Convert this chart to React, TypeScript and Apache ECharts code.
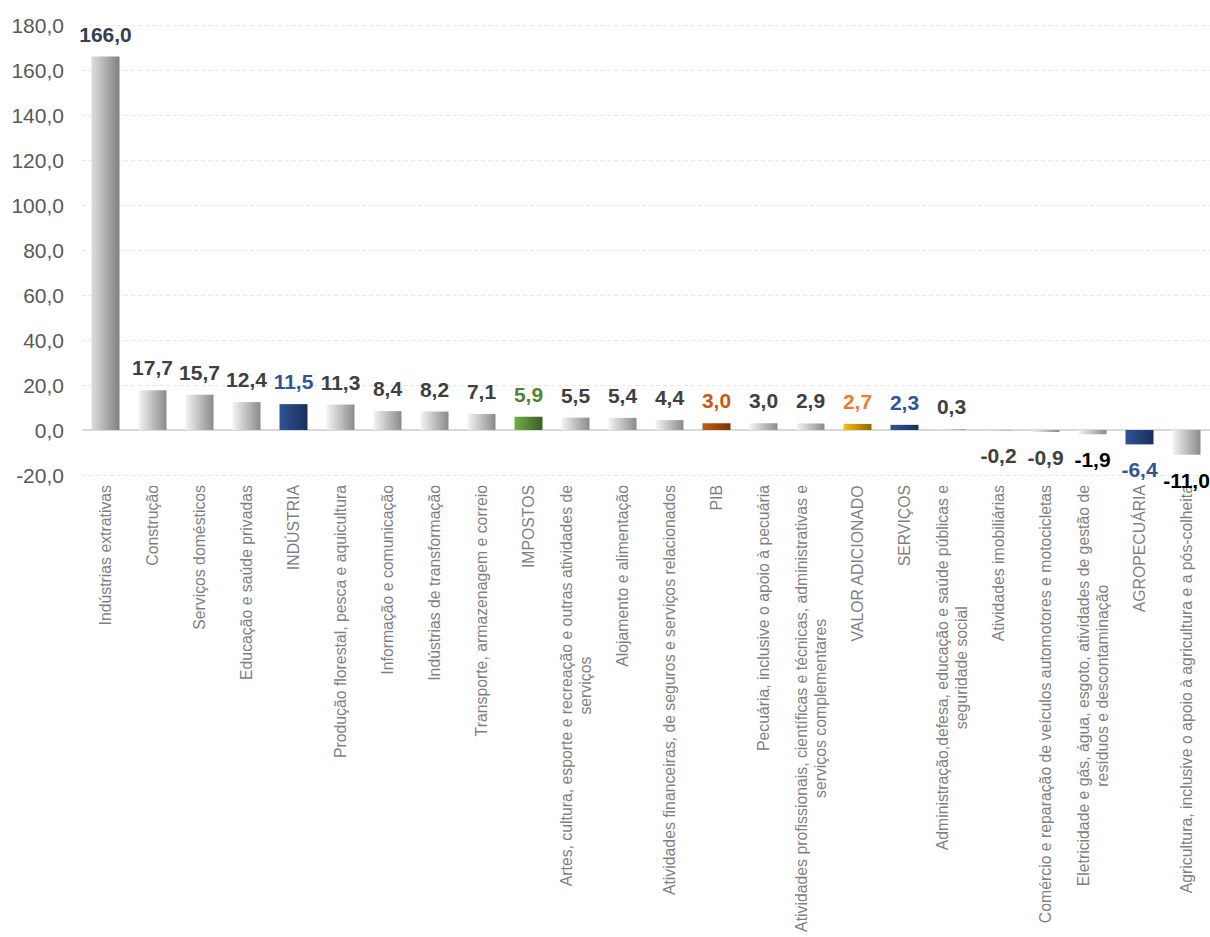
import React, { useEffect, useRef } from "react";
import * as echarts from "echarts";

const categories: string[] = [
  "Indústrias extrativas",
  "Construção",
  "Serviços domésticos",
  "Educação e saúde privadas",
  "INDÚSTRIA",
  "Produção florestal, pesca e aquicultura",
  "Informação e comunicação",
  "Indústrias de transformação",
  "Transporte, armazenagem e correio",
  "IMPOSTOS",
  "Artes, cultura, esporte e recreação e outras atividades de\nserviços",
  "Alojamento e alimentação",
  "Atividades financeiras, de seguros e serviços relacionados",
  "PIB",
  "Pecuária, inclusive o apoio à pecuária",
  "Atividades profissionais, científicas e técnicas, administrativas e\nserviços complementares",
  "VALOR ADICIONADO",
  "SERVIÇOS",
  "Administração,defesa, educação e saúde públicas e\nseguridade social",
  "Atividades imobiliárias",
  "Comércio e reparação de veículos automotores e motocicletas",
  "Eletricidade e gás, água, esgoto, atividades de gestão de\nresíduos e descontaminação",
  "AGROPECUÁRIA",
  "Agricultura, inclusive o apoio à agricultura e a pós-colheita",
];

const values: number[] = [
  166.0, 17.7, 15.7, 12.4, 11.5, 11.3, 8.4, 8.2, 7.1, 5.9, 5.5, 5.4, 4.4, 3.0,
  3.0, 2.9, 2.7, 2.3, 0.3, -0.2, -0.9, -1.9, -6.4, -11.0,
];

// bar style key per category
const barKinds: string[] = [
  "grayDark", "gray", "gray", "gray", "blue", "gray", "gray", "gray", "gray",
  "green", "gray", "gray", "gray", "brown", "gray", "gray", "gold", "blue",
  "gray", "gray", "gray", "gray", "blue", "gray",
];

const labelColors: string[] = [
  "#333f50", "#404040", "#404040", "#404040", "#2f5597", "#404040", "#404040",
  "#404040", "#404040", "#548235", "#404040", "#404040", "#404040", "#c55a11",
  "#404040", "#404040", "#ed7d31", "#2f5597", "#404040", "#404040", "#404040",
  "#000000", "#2f5597", "#000000",
];

const yTicks = { min: -20, max: 180, interval: 20 };

const gradients: Record<string, [string, string]> = {
  grayDark: ["#dedede", "#7f7f7f"],
  gray: ["#f4f4f4", "#8a8a8a"],
  blue: ["#2f5597", "#1a2f5c"],
  green: ["#70ad47", "#3a5f25"],
  brown: ["#c55a11", "#7a350a"],
  gold: ["#ffc000", "#8a6700"],
};

const fmt = (v: number) => v.toFixed(1).replace(".", ",");

const FONT = "Liberation Sans, Arial, sans-serif";

export default function App() {
  const ref = useRef<HTMLDivElement>(null);

  useEffect(() => {
    if (!ref.current) return;
    const chart = echarts.init(ref.current, undefined, { renderer: "svg" });

    const data = values.map((v, i) => {
      const [c0, c1] = gradients[barKinds[i]];
      return {
        value: v,
        itemStyle: {
          color: new echarts.graphic.LinearGradient(0, 0, 1, 0, [
            { offset: 0, color: c0 },
            { offset: 1, color: c1 },
          ]),
        },
        label: {
          color: labelColors[i],
          position: v >= 0 ? "top" : "bottom",
          distance: v >= 0 ? 12 : 15,
        },
      };
    });

    chart.setOption({
      animation: false,
      backgroundColor: "#ffffff",
      textStyle: { fontFamily: FONT },
      grid: { left: 82, right: -5, top: 25, bottom: 462, containLabel: false },
      xAxis: {
        type: "category",
        data: categories,
        axisLine: { show: false },
        axisTick: { show: false },
        axisLabel: {
          interval: 0,
          rotate: 90,
          margin: 10,
          color: "#7f7f7f",
          fontSize: 15.8,
          fontFamily: FONT,
          formatter: (v: string) =>
            v
              .split("\n")
              .map((l) => `{a|${l}}`)
              .join("\n"),
          rich: {
            a: {
              align: "center",
              fontSize: 15.8,
              lineHeight: 19,
              color: "#7f7f7f",
              fontFamily: FONT,
            },
          },
        },
        splitLine: { show: false },
      },
      yAxis: {
        type: "value",
        min: yTicks.min,
        max: yTicks.max,
        interval: yTicks.interval,
        axisLine: { show: false },
        axisTick: { show: false },
        axisLabel: {
          color: "#595959",
          fontSize: 21,
          margin: 18,
          fontFamily: FONT,
          formatter: (v: number) => fmt(v),
        },
        splitLine: {
          show: true,
          lineStyle: { color: "#e6e6e6", type: [4, 3], width: 1 },
        },
      },
      series: [
        {
          type: "bar",
          data,
          barWidth: 28,
          label: {
            show: true,
            fontSize: 21,
            fontWeight: "bold",
            fontFamily: FONT,
            formatter: (p: any) => fmt(p.value),
          },
          markLine: {
            silent: true,
            symbol: "none",
            label: { show: false },
            lineStyle: { color: "#d9d9d9", width: 2, type: "solid" },
            data: [{ yAxis: 0 }],
            z: 1,
          },
        },
      ],
    });

    return () => chart.dispose();
  }, []);

  return (
    <div
      ref={ref}
      style={{ position: "absolute", left: 0, top: 0, width: 1210, height: 937 }}
    />
  );
}
